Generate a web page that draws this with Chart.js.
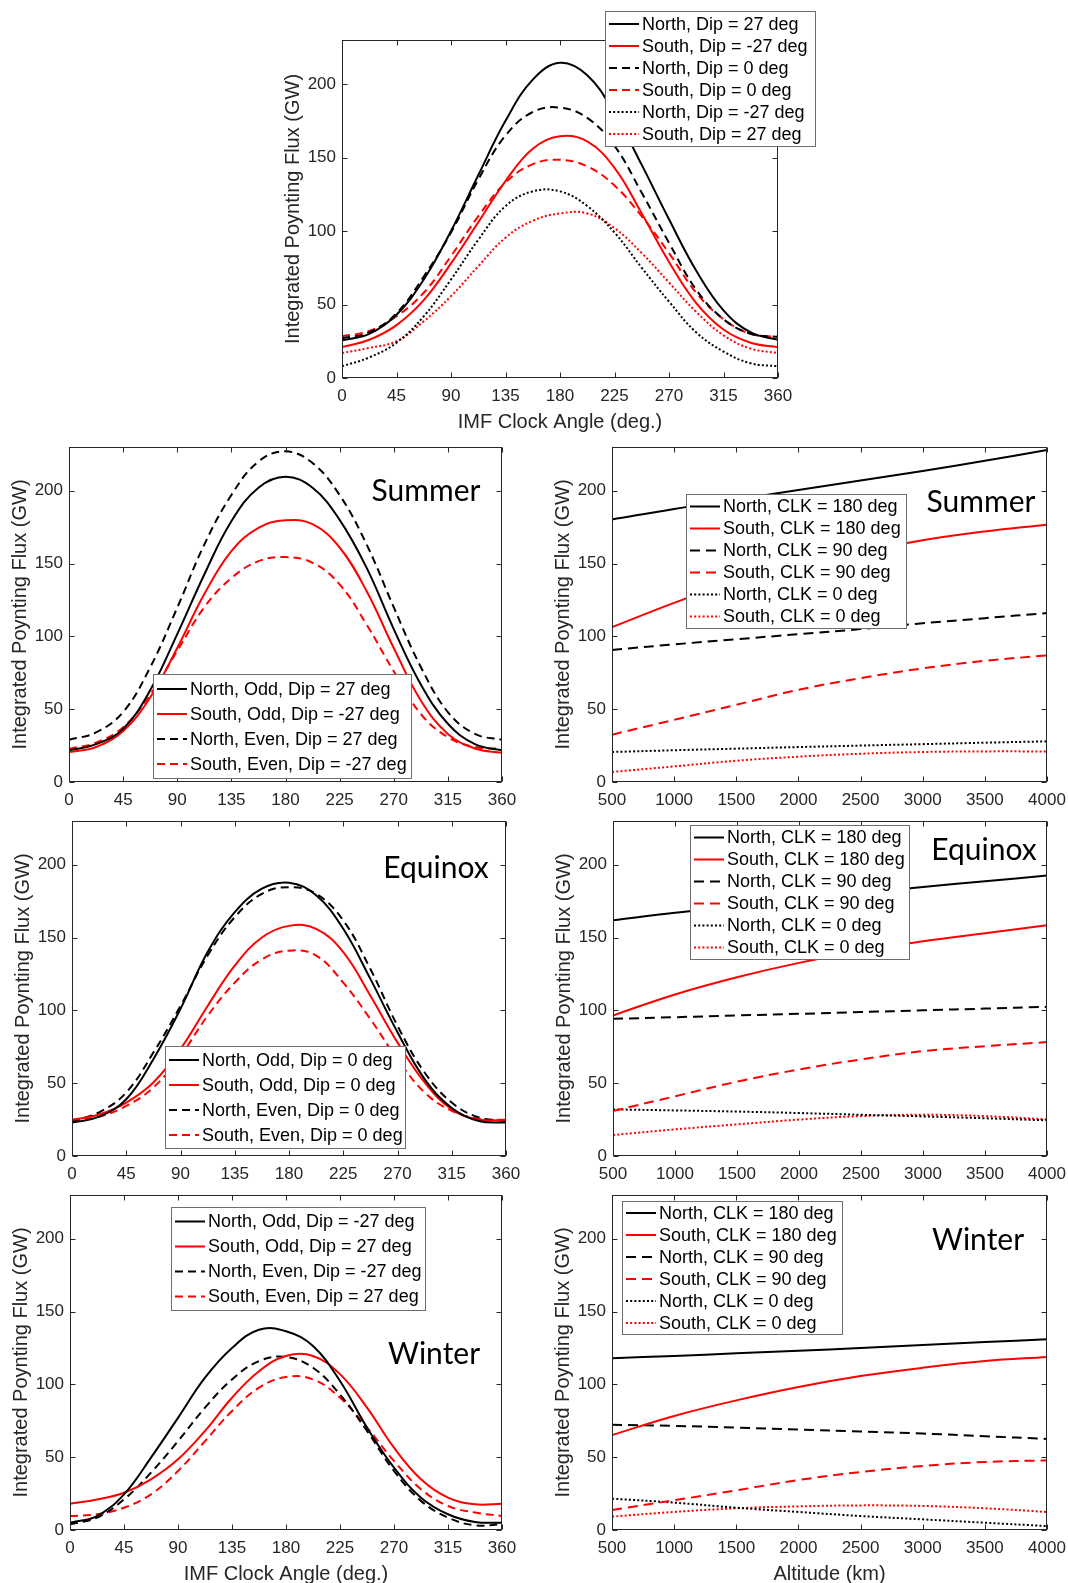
<!DOCTYPE html>
<html>
<head>
<meta charset="utf-8">
<title>Integrated Poynting Flux</title>
<script src="https://cdn.jsdelivr.net/npm/chart.js@4.4.1/dist/chart.umd.min.js"></script>
<style>
  body { margin: 0; background: #fff; }
  #page { position: relative; width: 1068px; height: 1583px; background: #fff; }
  #page canvas { position: absolute; left: 0; top: 0; }
</style>
</head>
<body>
<div id="page">
  <canvas id="top" width="1068" height="1583"></canvas>
  <canvas id="sumL" width="1068" height="1583"></canvas>
  <canvas id="sumR" width="1068" height="1583"></canvas>
  <canvas id="eqL" width="1068" height="1583"></canvas>
  <canvas id="eqR" width="1068" height="1583"></canvas>
  <canvas id="winL" width="1068" height="1583"></canvas>
  <canvas id="winR" width="1068" height="1583"></canvas>
</div>
<script>
// ---- data (GW) ----
const clockAngles = [0, 22.5, 45, 67.5, 90, 112.5, 135, 157.5, 180, 202.5, 225, 247.5, 270, 292.5, 315, 337.5, 360];
const altitudes = [500, 1000, 1500, 2000, 2500, 3000, 3500, 4000];

const clockTickValues = [0, 45, 90, 135, 180, 225, 270, 315, 360];
const altitudeTickValues = [500, 1000, 1500, 2000, 2500, 3000, 3500, 4000];
const fluxTickValues = [0, 50, 100, 150, 200];

// top panel: dipole tilt comparison
const topNorthDip27  = [25.7, 30, 43, 67, 100, 138, 175, 203, 214.5, 206, 180, 145, 108, 73, 46, 31, 26];
const topSouthDipM27 = [21, 26, 36, 53, 78, 106, 134, 156, 164.5, 161, 143, 112, 79, 51, 33, 24, 21];
const topNorthDip0   = [27, 31, 44, 69, 99, 135, 165, 181, 184, 177, 158, 126, 92, 60, 40, 30, 28];
const topSouthDip0   = [28.4, 32, 42, 58, 83, 110, 133, 145.5, 148.5, 144, 131, 110, 85, 58, 40, 30, 28];
const topNorthDipM27 = [8, 14, 24, 42, 67, 94, 117, 127, 127, 117, 99, 75, 52, 31, 18, 10, 8];
const topSouthDip27  = [17, 20.5, 25, 38.6, 55.7, 76, 95.5, 107, 112, 112, 102, 85, 65, 45, 29, 20, 17];

// summer, clock angle
const sumNorthOdd  = [21.7, 26, 36.5, 63, 101.5, 142.5, 179, 202, 209.5, 202, 180, 147, 105, 67, 40, 26, 21.7];
const sumSouthOdd  = [20.5, 24, 35, 58, 92, 129, 158.5, 174.5, 179.7, 177, 161, 131, 92, 56, 33, 23, 20];
const sumNorthEven = [29, 34, 48, 78.7, 119.7, 163, 197, 220, 227, 219, 197, 163, 120, 79, 48, 33, 29];
const sumSouthEven = [22.8, 27, 37.6, 60, 90, 120, 140, 151.6, 154.4, 150.5, 135.7, 108, 76, 46.7, 30.8, 24, 22.8];

// summer, altitude
const sumNorth180 = [180.3, 187.5, 194, 200.5, 207, 213.5, 220.5, 228];
const sumSouth180 = [106.3, 123, 138, 149, 158, 166, 172, 176.7];
const sumNorth90  = [90.7, 94.5, 98, 101.5, 105, 109, 112.5, 116];
const sumSouth90  = [32.5, 42.7, 53, 63.3, 71.3, 78, 83.2, 86.9];
const sumNorth0   = [20.6, 21.8, 22.9, 24, 25, 26, 27, 27.9];
const sumSouth0   = [6.9, 10.7, 14.6, 17.4, 19.4, 20.6, 21, 21];

// equinox, clock angle
const eqNorthOdd  = [22.9, 27, 39, 66.5, 101, 140, 167.4, 183.5, 187.6, 179, 156, 121.6, 85, 52.8, 33, 24, 23];
const eqSouthOdd  = [24.8, 28.5, 36.7, 50.5, 73.4, 103, 130.7, 150, 158, 156, 140, 110, 78, 50.5, 32, 25, 24.8];
const eqNorthEven = [24, 30, 43.6, 71, 103, 137.6, 164, 180, 184.6, 180, 161.7, 128.4, 89.4, 57.3, 36.7, 26.4, 24];
const eqSouthEven = [24, 27, 34.4, 47, 68.8, 96.3, 119, 135, 141, 137.6, 119, 94, 66.5, 43.6, 31, 25.7, 24.8];

// equinox, altitude
const eqNorth180 = [161.8, 167, 171.4, 176, 180.6, 184.7, 188.6, 192.5];
const eqSouth180 = [96.5, 110.9, 122.7, 132.6, 140.6, 147.4, 153, 158.4];
const eqNorth90  = [94.2, 95.3, 96.5, 97.6, 98.8, 100, 101.2, 102.4];
const eqSouth90  = [30.9, 41, 51, 59.4, 66.3, 72, 75.4, 78.2];
const eqNorth0   = [32, 31.3, 30.5, 29.5, 28.3, 27.2, 25.9, 24.5];
const eqSouth0   = [14.4, 18.3, 21.7, 25, 27.4, 28.3, 27.4, 25.1];

// winter, clock angle
const winNorthOdd  = [5, 9.6, 24.5, 49.7, 77, 104.6, 125, 137.5, 136.5, 126.3, 102.3, 70.3, 42.8, 22.2, 10.8, 5.5, 5];
const winSouthOdd  = [18, 21, 25.6, 34.8, 48.5, 68, 90.8, 109, 119.5, 119.5, 107, 84, 56.5, 34.8, 22.2, 17.6, 18];
const winNorthEven = [3.9, 8.5, 21, 39.4, 61, 84, 103.4, 116, 118.8, 111.4, 93, 68, 40.5, 20, 8.5, 3.2, 3.9];
const winSouthEven = [9.6, 10.8, 15.3, 24.5, 40.5, 61, 81.7, 97.7, 105, 103.4, 90.8, 70.3, 47.4, 28, 16.5, 12, 9.6];

// winter, altitude
const winNorth180 = [118, 119.5, 121.3, 123, 125, 127, 129, 131];
const winSouth180 = [65.2, 78.3, 89, 98.2, 105.7, 111.4, 116, 118.8];
const winNorth90  = [72.3, 71.5, 70.3, 69, 67.6, 66.2, 64.4, 62.5];
const winSouth90  = [13.7, 20.4, 27.2, 34.3, 39.8, 44, 46.7, 47.8];
const winNorth0   = [21.5, 18.8, 15.3, 12.4, 9.6, 7.3, 5, 2.7];
const winSouth0   = [9.2, 12.4, 14.9, 16.2, 16.9, 16.5, 14.9, 12.4];

// ---- styling ----
const SANS = "'Liberation Sans', Arial, Helvetica, sans-serif";
const AXIS = '#262626';
const BLACK = '#000000';
const RED = '#ff0000';
const W = 1068, H = 1583;
const Y_AXIS_W = 60, X_AXIS_H = 30;
const yTitle = 'Integrated Poynting Flux (GW)';

Chart.defaults.font.family = SANS;

function line(label, values, color, style, dashLen) {
    let dash = [];
    if (style === 'dash') dash = dashLen;
    if (style === 'dot') dash = [2, 2.2];
    return { label, values, color, dash };
}

// draws the matlab-like box, inward ticks, titles, legend and season tag
const figurePlugin = {
    id: 'figure',
    afterDraw(chart, args, o) {
        const ctx = chart.ctx;
        const a = chart.chartArea;
        const xs = chart.scales.x, ys = chart.scales.y;
        ctx.save();

        // box + ticks
        ctx.strokeStyle = AXIS;
        ctx.lineWidth = 1;
        const L = Math.round(a.left) + 0.5, R = Math.round(a.right) - 0.5;
        const T = Math.round(a.top) + 0.5, B = Math.round(a.bottom) - 0.5;
        ctx.strokeRect(L, T, R - L, B - T);
        ctx.beginPath();
        xs.ticks.forEach(t => {
            const px = Math.round(xs.getPixelForValue(t.value)) + 0.5;
            ctx.moveTo(px, B); ctx.lineTo(px, B - 5);
            ctx.moveTo(px, T); ctx.lineTo(px, T + 5);
        });
        ys.ticks.forEach(t => {
            const py = Math.round(ys.getPixelForValue(t.value)) + 0.5;
            ctx.moveTo(L, py); ctx.lineTo(L + 5, py);
            ctx.moveTo(R, py); ctx.lineTo(R - 5, py);
        });
        ctx.stroke();

        // axis titles
        ctx.fillStyle = AXIS;
        ctx.font = '20px ' + SANS;
        ctx.textAlign = 'center';
        ctx.textBaseline = 'middle';
        ctx.save();
        ctx.translate(a.left - 49, (a.top + a.bottom) / 2);
        ctx.rotate(-Math.PI / 2);
        ctx.fillText(yTitle, 0, 0);
        ctx.restore();
        if (o.xTitle) {
            ctx.fillText(o.xTitle, (a.left + a.right) / 2, a.bottom + 44);
        }

        // season tag
        if (o.season) {
            ctx.fillStyle = '#000';
            ctx.font = '30px Lato, sans-serif';
            ctx.fillText(o.season.text, o.season.x, o.season.y);
        }

        // legend
        const lg = o.legend;
        const sets = chart.data.datasets;
        ctx.fillStyle = '#fff';
        ctx.fillRect(lg.x1, lg.y1, lg.x2 - lg.x1, lg.y2 - lg.y1);
        ctx.strokeStyle = '#6e6e6e';
        ctx.lineWidth = 1;
        ctx.strokeRect(lg.x1 + 0.5, lg.y1 + 0.5, lg.x2 - lg.x1 - 1, lg.y2 - lg.y1 - 1);
        const pad = ((lg.y2 - lg.y1) - sets.length * lg.row) / 2;
        ctx.font = '18px ' + SANS;
        ctx.textAlign = 'left';
        sets.forEach((d, i) => {
            const cy = lg.y1 + pad + lg.row * (i + 0.5);
            ctx.strokeStyle = d.borderColor;
            ctx.lineWidth = d.borderWidth;
            ctx.setLineDash(d.borderDash);
            ctx.beginPath();
            ctx.moveTo(lg.x1 + 4, cy);
            ctx.lineTo(lg.x1 + 34, cy);
            ctx.stroke();
            ctx.setLineDash([]);
            ctx.fillStyle = '#000';
            ctx.fillText(d.label, lg.x1 + 37, cy + 1);
        });
        ctx.restore();
    }
};

function makePanel(id, p) {
    const [left, top, right, bottom] = p.box;
    new Chart(document.getElementById(id), {
        type: 'line',
        data: {
            datasets: p.series.map(s => ({
                label: s.label,
                data: p.x.map((x, i) => ({ x: x, y: s.values[i] })),
                borderColor: s.color,
                borderDash: s.dash,
                borderWidth: 2,
                pointRadius: 0,
                fill: false,
                tension: 0.4
            }))
        },
        options: {
            responsive: false,
            animation: false,
            events: [],
            layout: {
                padding: {
                    left: left - Y_AXIS_W,
                    top: top,
                    right: W - right,
                    bottom: H - bottom - X_AXIS_H
                }
            },
            scales: {
                x: {
                    type: 'linear',
                    min: p.x[0],
                    max: p.x[p.x.length - 1],
                    // fixed size, and no extra room for the end labels
                    afterFit: s => { s.height = X_AXIS_H; s.paddingLeft = 0; s.paddingRight = 0; },
                    afterBuildTicks: s => { s.ticks = p.xTicks.map(v => ({ value: v })); },
                    ticks: {
                        color: AXIS, font: { size: 17 }, padding: 8, maxRotation: 0, autoSkip: false,
                        callback: v => String(v)
                    },
                    grid: { display: false, drawTicks: false },
                    border: { display: false }
                },
                y: {
                    min: 0,
                    max: 230,
                    afterFit: s => { s.width = Y_AXIS_W; s.paddingTop = 0; s.paddingBottom = 0; },
                    afterBuildTicks: s => { s.ticks = fluxTickValues.map(v => ({ value: v })); },
                    ticks: { color: AXIS, font: { size: 17 }, padding: 6, callback: v => String(v) },
                    grid: { display: false, drawTicks: false },
                    border: { display: false }
                }
            },
            plugins: {
                legend: { display: false },
                tooltip: { enabled: false },
                figure: { legend: p.legend, season: p.season, xTitle: p.xTitle }
            }
        },
        plugins: [figurePlugin]
    });
}

const DL = [8, 5];   // dash for the clock-angle panels
const DR = [10, 6];  // dash for the altitude panels

makePanel('top', {
    box: [342, 40, 778, 378],
    x: clockAngles, xTicks: clockTickValues,
    xTitle: 'IMF Clock Angle (deg.)',
    legend: { x1: 605, y1: 11, x2: 816, y2: 147, row: 22 },
    series: [
        line('North, Dip = 27 deg', topNorthDip27, BLACK, 'solid'),
        line('South, Dip = -27 deg', topSouthDipM27, RED, 'solid'),
        line('North, Dip = 0 deg', topNorthDip0, BLACK, 'dash', DL),
        line('South, Dip = 0 deg', topSouthDip0, RED, 'dash', DL),
        line('North, Dip = -27 deg', topNorthDipM27, BLACK, 'dot'),
        line('South, Dip = 27 deg', topSouthDip27, RED, 'dot')
    ]
});

makePanel('sumL', {
    box: [69, 447, 502, 782],
    x: clockAngles, xTicks: clockTickValues,
    legend: { x1: 153, y1: 674, x2: 412, y2: 779, row: 25 },
    season: { text: 'Summer', x: 426, y: 491 },
    series: [
        line('North, Odd, Dip = 27 deg', sumNorthOdd, BLACK, 'solid'),
        line('South, Odd, Dip = -27 deg', sumSouthOdd, RED, 'solid'),
        line('North, Even, Dip = 27 deg', sumNorthEven, BLACK, 'dash', DL),
        line('South, Even, Dip = -27 deg', sumSouthEven, RED, 'dash', DL)
    ]
});

makePanel('sumR', {
    box: [612, 447, 1047, 782],
    x: altitudes, xTicks: altitudeTickValues,
    legend: { x1: 686, y1: 494, x2: 907, y2: 629, row: 22 },
    season: { text: 'Summer', x: 981, y: 502 },
    series: [
        line('North, CLK = 180 deg', sumNorth180, BLACK, 'solid'),
        line('South, CLK = 180 deg', sumSouth180, RED, 'solid'),
        line('North, CLK = 90 deg', sumNorth90, BLACK, 'dash', DR),
        line('South, CLK = 90 deg', sumSouth90, RED, 'dash', DR),
        line('North, CLK = 0 deg', sumNorth0, BLACK, 'dot'),
        line('South, CLK = 0 deg', sumSouth0, RED, 'dot')
    ]
});

makePanel('eqL', {
    box: [72, 821, 506, 1156],
    x: clockAngles, xTicks: clockTickValues,
    legend: { x1: 165, y1: 1046, x2: 406, y2: 1149, row: 25 },
    season: { text: 'Equinox', x: 436, y: 868 },
    series: [
        line('North, Odd, Dip = 0 deg', eqNorthOdd, BLACK, 'solid'),
        line('South, Odd, Dip = 0 deg', eqSouthOdd, RED, 'solid'),
        line('North, Even, Dip = 0 deg', eqNorthEven, BLACK, 'dash', DL),
        line('South, Even, Dip = 0 deg', eqSouthEven, RED, 'dash', DL)
    ]
});

makePanel('eqR', {
    box: [613, 821, 1047, 1156],
    x: altitudes, xTicks: altitudeTickValues,
    legend: { x1: 690, y1: 825, x2: 910, y2: 960, row: 22 },
    season: { text: 'Equinox', x: 984, y: 850 },
    series: [
        line('North, CLK = 180 deg', eqNorth180, BLACK, 'solid'),
        line('South, CLK = 180 deg', eqSouth180, RED, 'solid'),
        line('North, CLK = 90 deg', eqNorth90, BLACK, 'dash', DR),
        line('South, CLK = 90 deg', eqSouth90, RED, 'dash', DR),
        line('North, CLK = 0 deg', eqNorth0, BLACK, 'dot'),
        line('South, CLK = 0 deg', eqSouth0, RED, 'dot')
    ]
});

makePanel('winL', {
    box: [70, 1195, 502, 1530],
    x: clockAngles, xTicks: clockTickValues,
    xTitle: 'IMF Clock Angle (deg.)',
    legend: { x1: 171, y1: 1207, x2: 426, y2: 1311, row: 25 },
    season: { text: 'Winter', x: 434, y: 1354 },
    series: [
        line('North, Odd, Dip = -27 deg', winNorthOdd, BLACK, 'solid'),
        line('South, Odd, Dip = 27 deg', winSouthOdd, RED, 'solid'),
        line('North, Even, Dip = -27 deg', winNorthEven, BLACK, 'dash', DL),
        line('South, Even, Dip = 27 deg', winSouthEven, RED, 'dash', DL)
    ]
});

makePanel('winR', {
    box: [612, 1195, 1047, 1530],
    x: altitudes, xTicks: altitudeTickValues,
    xTitle: 'Altitude (km)',
    legend: { x1: 622, y1: 1201, x2: 843, y2: 1335, row: 22 },
    season: { text: 'Winter', x: 978, y: 1240 },
    series: [
        line('North, CLK = 180 deg', winNorth180, BLACK, 'solid'),
        line('South, CLK = 180 deg', winSouth180, RED, 'solid'),
        line('North, CLK = 90 deg', winNorth90, BLACK, 'dash', DR),
        line('South, CLK = 90 deg', winSouth90, RED, 'dash', DR),
        line('North, CLK = 0 deg', winNorth0, BLACK, 'dot'),
        line('South, CLK = 0 deg', winSouth0, RED, 'dot')
    ]
});
</script>
</body>
</html>
